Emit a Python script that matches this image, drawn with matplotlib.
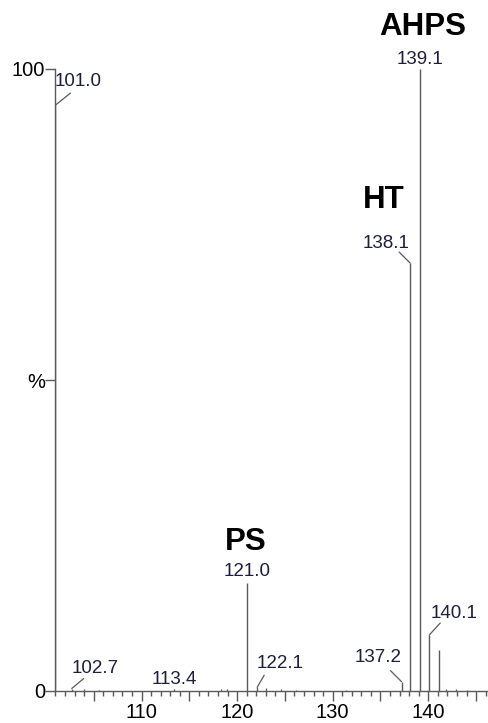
import numpy as np
import matplotlib
matplotlib.use('Agg')
import matplotlib.pyplot as plt
from matplotlib.ticker import MultipleLocator, FixedLocator

plt.rcParams['font.family'] = ['Liberation Sans', 'DejaVu Sans']

# Дані спектру (m/z та відносна інтенсивність, %)
mz = [101.0, 102.7, 113.4, 121.0, 122.1, 137.2, 138.1, 139.1, 140.1, 141.1]
intensity = [94.2, 0.4, 0.3, 17.4, 0.6, 1.5, 68.8, 100.0, 9.0, 6.6]

# дрібні шумові піки біля базової лінії
noise_mz = [104.0, 105.6, 118.3, 118.9, 123.0, 124.6, 126.2, 131.4, 141.9, 142.9, 144.1]
noise_int = [0.3, 0.2, 0.3, 0.3, 0.5, 0.3, 0.2, 0.2, 0.3, 0.3, 0.2]

# підписи піків: текст, зсув тексту (px), початок лінії-виноски (px або None)
peak_labels = {
    101.0: ('101.0', (23, 24), (15, 12)),
    102.7: ('102.7', (23, 20), (12, 10)),
    113.4: ('113.4', (0, 10), None),
    121.0: ('121.0', (0, 11), None),
    122.1: ('122.1', (23, 24), (7, 12)),
    137.2: ('137.2', (-23, 24), (-11, 11)),
    138.1: ('138.1', (-24, 20), (-11, 11)),
    139.1: ('139.1', (0, 10), None),
    140.1: ('140.1', (25, 22), (11, 12)),
}

# назви сполук
compounds = {139.1: ('AHPS', (3, 42)), 138.1: ('HT', (-26, 63)), 121.0: ('PS', (-1, 41))}

line_c = '#5a5a5a'
label_c = '#1e1e3c'

fig = plt.figure(figsize=(4.89, 7.23), dpi=100)
ax = fig.add_axes([55 / 489, 32 / 723, 434 / 489, 622 / 723])

ax.vlines(noise_mz, 0, noise_int, color=line_c, lw=0.9)
ax.vlines(mz, 0, intensity, color=line_c, lw=1.0)

for x, h in zip(mz, intensity):
    if x in peak_labels:
        txt, off, lead = peak_labels[x]
        ax.annotate(txt, xy=(x, h), xytext=off, textcoords='offset pixels',
                    ha='center', va='center', fontsize=13.5, color=label_c,
                    annotation_clip=False)
        if lead is not None:
            ax.annotate('', xy=(x, h), xytext=lead, textcoords='offset pixels',
                        arrowprops=dict(arrowstyle='-', color=line_c, lw=0.9,
                                        shrinkA=0, shrinkB=0),
                        annotation_clip=False)
    if x in compounds:
        name, off = compounds[x]
        ax.annotate(name, xy=(x, h), xytext=off, textcoords='offset pixels',
                    ha='center', va='center', fontsize=22.5, fontweight='bold',
                    color='black', annotation_clip=False)

ax.set_xlim(100.95, 146.35)
ax.set_ylim(0, 100)

for s in ['top', 'right']:
    ax.spines[s].set_visible(False)
for s in ['left', 'bottom']:
    ax.spines[s].set_color(line_c)
    ax.spines[s].set_linewidth(1.0)

ax.xaxis.set_major_locator(MultipleLocator(5))
ax.xaxis.set_minor_locator(MultipleLocator(1))
ax.xaxis.set_major_formatter(plt.FuncFormatter(lambda v, p: f'{v:.0f}' if v % 10 == 0 else ''))
ax.tick_params(axis='x', which='major', length=7, width=1, color=line_c, pad=2, labelsize=14.5)
ax.tick_params(axis='x', which='minor', length=3.5, width=1, color=line_c)

ax.yaxis.set_major_locator(FixedLocator([0, 50, 100]))
ax.set_yticklabels(['0', '%', '100'])
ax.tick_params(axis='y', which='major', length=7, width=1, color=line_c, pad=0, labelsize=14.5)

fig.savefig('out.png', dpi=100)
